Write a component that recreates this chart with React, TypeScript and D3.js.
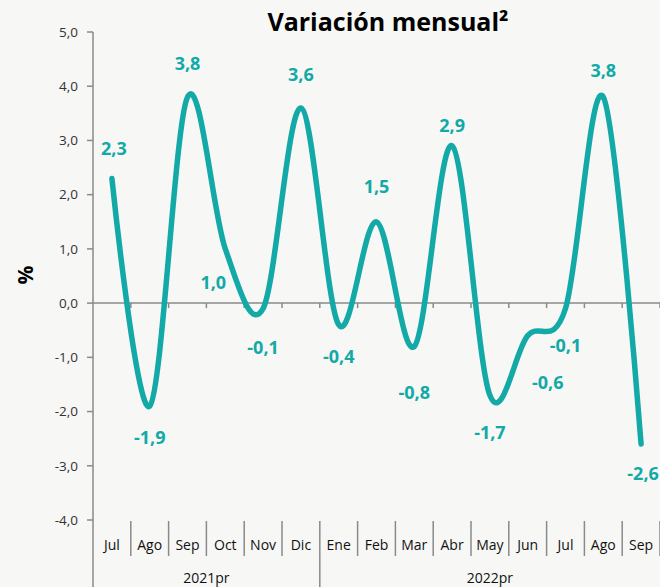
import React from "react";
import * as d3 from "d3";

const months = ["Jul", "Ago", "Sep", "Oct", "Nov", "Dic", "Ene", "Feb", "Mar", "Abr", "May", "Jun", "Jul", "Ago", "Sep"];
const values = [2.3, -1.9, 3.8, 1.0, -0.1, 3.6, -0.4, 1.5, -0.8, 2.9, -1.7, -0.6, -0.1, 3.8, -2.6];
const years = [
  { label: "2021pr", from: 0, to: 5 },
  { label: "2022pr", from: 6, to: 14 },
];
const yTicks = [5, 4, 3, 2, 1, 0, -1, -2, -3, -4];
// label offsets from the point, in px [dx, dy]
const labelOffsets = [
  [2, -30], [0, 32], [0, -33], [-12, 34], [0, 39], [0, -33], [0, 32], [0, -35],
  [0, 46], [0, -20], [0, 37], [20, 47], [0, 37], [0, -26], [2, 30],
];

const width = 660;
const height = 587;
const margin = { top: 32, left: 93, right: 0, plotBottom: 520 };
const teal = "#12a9a7";
const axisColor = "#8a8a8a";
const font = "'Open Sans', 'Liberation Sans', sans-serif";
const fmt = (v: number) => v.toFixed(1).replace(".", ",");

export default function App() {
  const x = d3
    .scaleBand<number>()
    .domain(d3.range(months.length))
    .range([margin.left, width - margin.right]);
  const y = d3.scaleLinear().domain([-4, 5]).range([margin.plotBottom, margin.top]);
  const cx = (i: number) => (x(i) as number) + x.bandwidth() / 2;

  const line = d3
    .line<number>()
    .x((_, i) => cx(i))
    .y((d) => y(d))
    .curve(d3.curveCardinal.tension(0));

  const boundaries = d3.range(1, months.length + 1).map((i) => margin.left + i * x.bandwidth());
  const catTop = margin.plotBottom + 1;
  const catBottom = 556;

  return (
    <svg
      width={width}
      height={height}
      style={{ position: "absolute", left: 0, top: 0, fontFamily: font }}
    >
      <rect width={width} height={height} fill="#f7f7f5" />
      <text x={388} y={31} textAnchor="middle" fontSize={25} fontWeight="bold" fill="#000">
        Variación mensual²
      </text>
      <text
        transform="translate(33,275) rotate(-90)"
        textAnchor="middle"
        fontSize={21}
        fontWeight="bold"
        fill="#000"
      >
        %
      </text>

      {/* y axis */}
      <line x1={margin.left} x2={margin.left} y1={margin.top} y2={height} stroke={axisColor} strokeWidth={1.5} />
      {yTicks.map((t) => (
        <g key={t}>
          <line x1={margin.left - 6} x2={margin.left} y1={y(t)} y2={y(t)} stroke={axisColor} strokeWidth={1.5} />
          <text x={78} y={y(t)} dy="0.35em" textAnchor="end" fontSize={13.5} fill="#333">
            {fmt(t)}
          </text>
        </g>
      ))}

      {/* zero line with ticks */}
      <line x1={margin.left} x2={width} y1={y(0)} y2={y(0)} stroke={axisColor} strokeWidth={1.5} />
      {boundaries.map((b, i) => (
        <line key={"zt" + i} x1={b} x2={b} y1={y(0)} y2={y(0) + 5} stroke={axisColor} strokeWidth={1.5} />
      ))}

      {/* category axis */}
      {boundaries.map((b, i) => (
        <line
          key={"sep" + i}
          x1={b}
          x2={b}
          y1={catTop}
          y2={i === 5 ? height : catBottom}
          stroke={axisColor}
          strokeWidth={1.5}
        />
      ))}
      {months.map((m, i) => (
        <text key={"m" + i} x={cx(i)} y={545} dy="0.35em" textAnchor="middle" fontSize={14} fill="#111">
          {m}
        </text>
      ))}
      {years.map((yr) => (
        <text
          key={yr.label}
          x={((x(yr.from) as number) + (x(yr.to) as number) + x.bandwidth()) / 2}
          y={578}
          dy="0.35em"
          textAnchor="middle"
          fontSize={14}
          fill="#111"
        >
          {yr.label}
        </text>
      ))}

      {/* series */}
      <path
        d={line(values) || ""}
        fill="none"
        stroke={teal}
        strokeWidth={5.5}
        strokeLinecap="round"
        strokeLinejoin="round"
      />
      {values.map((v, i) => (
        <text
          key={"l" + i}
          x={cx(i) + labelOffsets[i][0]}
          y={y(v) + labelOffsets[i][1]}
          dy="0.35em"
          textAnchor="middle"
          fontSize={18}
          fontWeight="bold"
          fill={teal}
        >
          {fmt(v)}
        </text>
      ))}
    </svg>
  );
}
